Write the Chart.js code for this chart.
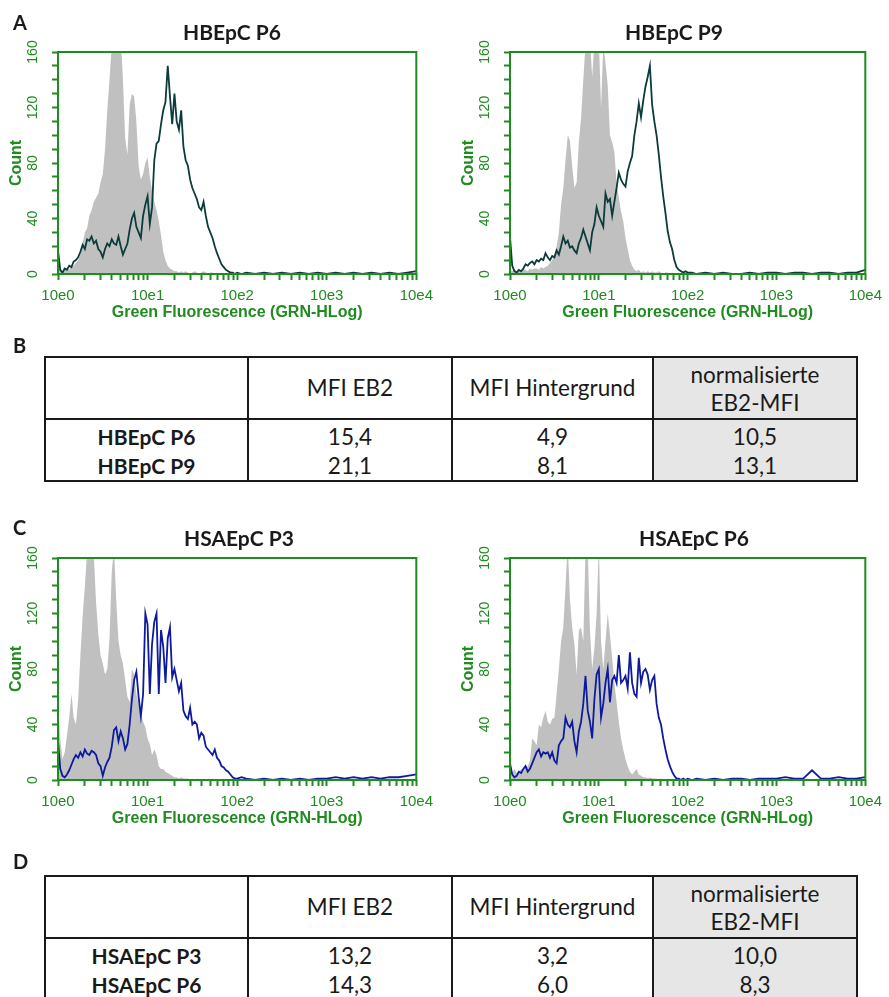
<!DOCTYPE html>
<html>
<head>
<meta charset="utf-8">
<script src="https://cdn.jsdelivr.net/npm/chart.js@4.4.0/dist/chart.umd.min.js"></script>
<style>
  body { margin: 0; background: #fff; }
  #page { position: relative; width: 889px; height: 997px; overflow: hidden; background: #fff; font-family: Lato, "Open Sans", sans-serif; color: #1a1a1a; }
  canvas { position: absolute; }
  .abs { position: absolute; white-space: nowrap; }
  .letter { font-weight: bold; font-size: 20px; line-height: 24px; }
  .ptitle { font-weight: bold; font-size: 21px; line-height: 24px; text-align: center; width: 240px; }
  .cell { text-align: center; font-size: 22.5px; line-height: 28px; height: 28px; }
  .cell.rowlab { font-size: 21px; font-weight: bold; }
</style>
</head>
<body>
<div id="page">
  <canvas id="hA1" width="440" height="326" style="left:0;top:0"></canvas>
  <canvas id="hA2" width="437" height="326" style="left:452px;top:0"></canvas>
  <canvas id="hC1" width="440" height="326" style="left:0;top:506px"></canvas>
  <canvas id="hC2" width="437" height="326" style="left:452px;top:506px"></canvas>
</div>
<script>
// Kanal-Positionen (Exponent von 10)
const chan = [0,0.025,0.05,0.075,0.1,0.125,0.15,0.175,0.2,0.225,
  0.25,0.275,0.3,0.325,0.35,0.375,0.4,0.425,0.45,0.475,
  0.5,0.525,0.55,0.575,0.6,0.625,0.65,0.675,0.7,0.725,
  0.75,0.775,0.8,0.825,0.85,0.875,0.9,0.925,0.95,0.975,
  1,1.025,1.05,1.075,1.1,1.125,1.15,1.175,1.2,1.225,
  1.25,1.275,1.3,1.325,1.35,1.375,1.4,1.425,1.45,1.475,
  1.5,1.525,1.55,1.575,1.6,1.625,1.65,1.675,1.7,1.725,
  1.75,1.775,1.8,1.825,1.85,1.875,1.9,1.925,1.95,1.975,2,
  2.05,2.1,2.2,2.3,2.4,2.5,2.6,2.7,2.8,2.9,3,3.1,3.2,3.3,3.4,3.5,3.6,3.7,3.8,3.9,4];

// HBEpC P6
const hbepcP6Gray = [4,3,2,3,4,3,5,6,8,10,
  14,22,30,33,42,46,52,55,58,66,
  72,90,118,140,165,175,170,168,172,140,
  98,86,122,130,128,110,78,68,72,80,
  84,70,60,52,46,38,28,16,10,6,
  4,3,2,2,1,2,1,2,1,0,
  1,2,1,0,1,2,1,0,1,1,
  0,1,0,1,0,0,1,0,0,0,0,
  0,0,0,0,0,0,0,0,0,0,0,0,0,0,0,0,0,0,0,0,0];
const hbepcP6Line = [17,3,1,4,3,6,5,9,10,12,
  16,21,18,25,24,27,22,24,18,16,
  12,18,22,20,25,22,21,27,20,14,
  18,22,32,40,44,34,30,26,42,50,
  56,36,48,82,94,96,108,118,124,150,
  128,108,130,110,104,118,92,82,78,68,
  62,58,54,48,46,52,42,34,30,26,
  20,15,11,7,5,3,2,1,1,0,1,
  0,1,0,1,0,1,0,1,0,1,0,1,0,1,0,1,0,1,0,1,2];

// HBEpC P9
const hbepcP9Gray = [3,2,4,2,3,2,4,3,2,4,
  3,4,4,3,5,4,5,6,8,10,
  14,20,30,50,62,82,100,96,78,62,
  66,95,112,140,165,175,170,142,168,175,
  170,120,165,152,136,100,95,88,66,55,
  45,38,26,18,10,6,3,2,3,1,
  2,1,2,1,2,1,1,2,1,0,
  1,1,0,1,0,0,1,0,0,0,0,
  0,0,0,0,0,0,0,0,0,0,0,0,0,0,0,0,0,0,0,0,0];
const hbepcP9Line = [27,6,2,1,3,2,4,7,6,8,
  9,7,10,9,11,10,15,12,10,13,
  12,17,14,20,27,22,24,19,20,17,
  15,22,26,32,27,22,17,30,36,48,
  42,38,34,58,52,54,42,52,62,73,
  68,65,63,74,80,85,100,110,123,113,
  125,135,142,150,122,110,100,86,70,56,
  44,31,23,18,10,5,3,2,1,2,1,
  1,0,1,0,1,0,0,1,0,1,1,0,1,1,0,1,1,0,1,1,3];

// HSAEpC P3
const hsaepcP3Gray = [55,30,15,20,32,45,62,45,40,58,
  90,118,140,165,175,170,162,128,105,90,
  84,76,80,102,150,168,130,100,90,84,
  72,60,56,80,76,62,55,48,42,38,
  30,26,18,22,18,10,8,8,6,5,
  4,3,2,2,1,2,1,1,1,0,
  1,0,1,0,0,1,0,0,0,1,
  0,0,0,0,1,0,0,0,0,0,0,
  0,0,0,0,0,0,0,0,0,0,0,0,0,0,0,0,0,0,0,0,0];
const hsaepcP3Line = [28,8,3,2,4,7,11,15,18,16,
  20,17,22,19,18,21,20,18,12,10,
  3,9,13,16,24,36,38,28,35,30,
  22,26,40,58,72,78,60,46,62,120,
  112,62,98,114,120,62,108,96,70,102,
  110,74,80,72,64,70,50,46,44,52,
  40,42,40,30,34,32,24,22,20,18,
  22,16,14,10,9,7,6,4,2,1,1,
  2,1,0,1,0,1,0,1,0,1,1,2,1,2,1,2,1,2,2,3,4];

// HSAEpC P6
const hsaepcP6Gray = [6,5,8,5,6,8,7,9,10,14,
  30,28,25,40,38,45,50,42,40,44,
  45,62,80,100,110,140,170,130,110,98,
  76,108,110,100,165,168,108,80,95,120,
  170,100,80,100,120,105,88,70,56,42,
  30,22,15,10,6,4,6,8,4,3,
  2,2,1,2,1,1,1,0,1,0,
  0,1,0,0,0,1,0,0,0,0,0,
  0,0,0,0,0,0,0,0,0,0,0,0,0,0,0,0,0,0,0,0,0];
const hsaepcP6Line = [12,4,2,3,6,5,8,10,6,8,
  12,16,20,22,17,20,19,20,16,20,
  14,12,25,28,30,45,40,38,42,28,
  20,35,42,55,75,50,42,30,58,76,
  80,45,55,70,80,56,72,75,70,90,
  70,72,75,66,92,70,62,60,88,70,
  78,80,76,65,72,75,55,45,40,30,
  22,15,10,6,3,1,1,0,1,0,1,
  0,1,0,1,0,1,1,0,1,1,1,2,1,1,7,1,1,2,1,1,2];

const xTickLabels = ['10e0', '10e1', '10e2', '10e3', '10e4'];
const yTickLabels = [0, 40, 80, 120, 160];
const panelTitles = ['HBEpC P6', 'HBEpC P9', 'HSAEpC P3', 'HSAEpC P6'];
const tableHead = ['', 'MFI EB2', 'MFI Hintergrund', 'normalisierte|EB2-MFI'];
const tableBRows = [['HBEpC P6', '15,4', '4,9', '10,5'], ['HBEpC P9', '21,1', '8,1', '13,1']];
const tableDRows = [['HSAEpC P3', '13,2', '3,2', '10,0'], ['HSAEpC P6', '14,3', '6,0', '8,3']];

const GREEN = '#1f8c1f';
const TEAL = '#0b3b3b';
const BLUE = '#0d1a9e';
const GRAY = '#c0c0c0';

// Tickmarken der log-Achse: 1..9 pro Dekade
const xTickVals = [];
for (let d = 0; d < 4; d++) for (let m = 1; m < 10; m++) xTickVals.push(m * Math.pow(10, d));
xTickVals.push(10000);

const framePlugin = {
  id: 'frame',
  afterDatasetsDraw(chart) {
    const a = chart.chartArea, ctx = chart.ctx;
    ctx.save();
    ctx.strokeStyle = GREEN;
    ctx.lineWidth = 2;
    ctx.strokeRect(a.left, a.top, a.right - a.left, a.bottom - a.top);
    ctx.restore();
  }
};

function pts(vals) {
  return chan.map((e, i) => ({ x: Math.pow(10, e), y: vals[i] }));
}

function makeHist(id, grayVals, lineVals, lineColor, padRight) {
  const grid = { display: true, drawOnChartArea: false, drawTicks: true, tickLength: 6, color: GREEN, tickColor: GREEN, tickWidth: 2 };
  return new Chart(document.getElementById(id), {
    type: 'line',
    data: {
      datasets: [
        { data: pts(lineVals), borderColor: lineColor, borderWidth: 1.8, pointRadius: 0, tension: 0, fill: false, order: 0 },
        { data: pts(grayVals), borderColor: GRAY, backgroundColor: GRAY, borderWidth: 0, pointRadius: 0, tension: 0, fill: 'origin', order: 1 }
      ]
    },
    options: {
      responsive: false,
      animation: false,
      events: [],
      layout: { padding: { top: 52, right: padRight, left: 0, bottom: 0 } },
      plugins: { legend: { display: false }, tooltip: { enabled: false } },
      scales: {
        x: {
          type: 'logarithmic', min: 1, max: 10000,
          afterBuildTicks: s => { s.ticks = xTickVals.map(v => ({ value: v })); },
          afterFit: s => { s.height = 52; },
          grid: grid,
          border: { display: false },
          ticks: {
            autoSkip: false, minRotation: 0, maxRotation: 0, padding: 7, color: GREEN,
            font: { family: 'Liberation Sans', size: 15 },
            callback: v => {
              const k = Math.log10(v);
              return Math.abs(k - Math.round(k)) < 1e-6 ? xTickLabels[Math.round(k)] : '';
            }
          },
          title: { display: true, text: 'Green Fluorescence (GRN-HLog)', color: GREEN,
            font: { family: 'Liberation Sans', size: 16, weight: 'bold' }, padding: { top: 0, bottom: 4 } }
        },
        y: {
          min: 0, max: 160,
          afterFit: s => { s.width = 58; },
          grid: grid,
          border: { display: false },
          ticks: {
            stepSize: 10, autoSkip: false, minRotation: 90, maxRotation: 90, crossAlign: 'center',
            padding: 7, color: GREEN, font: { family: 'Liberation Sans', size: 14 },
            callback: v => yTickLabels.includes(v) ? String(v) : ''
          },
          title: { display: true, text: 'Count', color: GREEN,
            font: { family: 'Liberation Sans', size: 16, weight: 'bold' }, padding: { top: 7, bottom: 0 } }
        }
      }
    },
    plugins: [framePlugin]
  });
}

makeHist('hA1', hbepcP6Gray, hbepcP6Line, TEAL, 19);
makeHist('hA2', hbepcP9Gray, hbepcP9Line, TEAL, 16);
makeHist('hC1', hsaepcP3Gray, hsaepcP3Line, BLUE, 19);
makeHist('hC2', hsaepcP6Gray, hsaepcP6Line, BLUE, 16);

// Texte: Panel-Buchstaben und Titel
const page = document.getElementById('page');
function addDiv(cls, text, style) {
  const d = document.createElement('div');
  d.className = 'abs ' + cls;
  d.textContent = text;
  Object.assign(d.style, style);
  page.appendChild(d);
  return d;
}
[['A', 22], ['B', 345], ['C', 527], ['D', 861]].forEach(([t, cy]) => {
  addDiv('letter', t, { left: '13px', top: (cy - 12) + 'px' });
});
[[232, 32], [674, 32], [239, 538], [694, 538]].forEach(([cx, cy], i) => {
  addDiv('ptitle', panelTitles[i], { left: (cx - 120) + 'px', top: (cy - 12) + 'px' });
});

// Tabellen B und D
const colX = [45, 248, 452, 653, 857];
function makeTable(top, rows) {
  const h = 124;
  const rect = (x, y, w, hh, bg) => {
    const d = document.createElement('div');
    d.className = 'abs';
    Object.assign(d.style, { left: x + 'px', top: y + 'px', width: w + 'px', height: hh + 'px', background: bg });
    page.appendChild(d);
  };
  rect(colX[3], top, colX[4] - colX[3], h, '#e6e6e6');
  colX.forEach(x => rect(x - 1, top - 1, 2, h + 2, '#1a1a1a'));
  [top, top + 62, top + h].forEach(y => rect(colX[0] - 1, y - 1, colX[4] - colX[0] + 2, 2, '#1a1a1a'));
  const cell = (ci, cy, text, cls) => {
    addDiv('cell ' + cls, text, { left: colX[ci] + 'px', width: (colX[ci + 1] - colX[ci]) + 'px', top: (cy - 14) + 'px' });
  };
  tableHead.forEach((t, ci) => {
    if (!t) return;
    const lines = t.split('|');
    if (lines.length === 1) cell(ci, top + 31, lines[0], '');
    else { cell(ci, top + 18, lines[0], ''); cell(ci, top + 46, lines[1], ''); }
  });
  rows.forEach((r, ri) => {
    r.forEach((t, ci) => cell(ci, top + 80 + ri * 29, t, ci === 0 ? 'rowlab' : ''));
  });
}
makeTable(357, tableBRows);
makeTable(876, tableDRows);
</script>
</body>
</html>
